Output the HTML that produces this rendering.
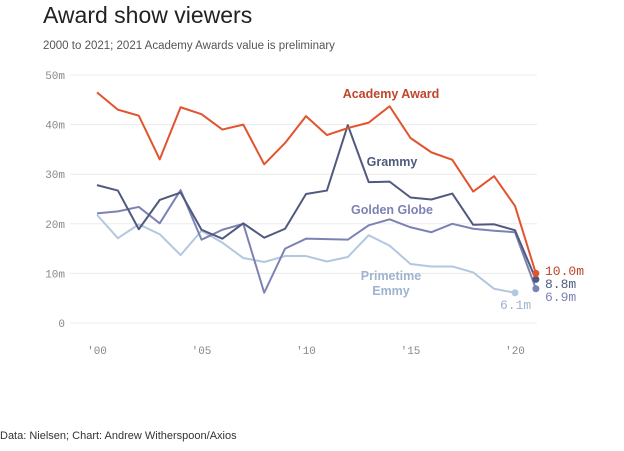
<!DOCTYPE html>
<html><head><meta charset="utf-8"><style>
body{margin:0;width:624px;height:451px;background:#fff;font-family:"Liberation Sans",sans-serif;overflow:hidden;position:relative}
#title{position:absolute;left:43px;top:2px;font-size:23px;color:#222}
#sub{position:absolute;left:43px;top:40px;font-size:11.5px;color:#555}
#foot{position:absolute;left:0;top:430px;font-size:11px;color:#333}
svg{position:absolute;left:0;top:0}
</style></head><body>
<div id="title">Award show viewers</div>
<div id="sub">2000 to 2021; 2021 Academy Awards value is preliminary</div>
<div id="foot">Data: Nielsen; Chart: Andrew Witherspoon/Axios</div>
<svg id="chart" width="624" height="451"></svg>
<script>
const years=[2000,2001,2002,2003,2004,2005,2006,2007,2008,2009,2010,2011,2012,2013,2014,2015,2016,2017,2018,2019,2020,2021];
const academy=[46.5,43,41.8,33,43.5,42.1,39,40,32,36.3,41.7,37.9,39.3,40.4,43.7,37.3,34.4,32.9,26.5,29.6,23.6,10.0];
const grammy=[27.8,26.7,18.9,24.8,26.3,18.8,17,20.1,17.2,19,26,26.7,39.9,28.4,28.5,25.3,24.9,26.1,19.8,19.9,18.7,8.8];
const globe=[22.1,22.5,23.4,20.1,26.8,16.8,18.8,20,6.1,15,17,16.9,16.8,19.7,20.9,19.3,18.3,20,19,18.6,18.3,6.9];
const emmy=[21.8,17.1,19.9,17.9,13.7,18.6,16.2,13.1,12.3,13.5,13.5,12.4,13.3,17.7,15.6,11.9,11.4,11.4,10.2,6.9,6.1];
const yTicks=[0,10,20,30,40,50];
const yTickLabels=["0","10m","20m","30m","40m","50m"];
const xTicks=[2000,2005,2010,2015,2020];
const xTickLabels=["'00","'05","'10","'15","'20"];
const NS="http://www.w3.org/2000/svg";
const svg=document.getElementById('chart');
const x=v=>97+(v-2000)*20.9;
const y=v=>323-v*4.96;
function el(t,a,p){const e=document.createElementNS(NS,t);for(const k in a)e.setAttribute(k,a[k]);(p||svg).appendChild(e);return e;}
yTicks.forEach((t,i)=>{
 const g=el('line',{x1:70,x2:537,y1:y(t),y2:y(t),stroke:'#ececec','stroke-width':1});
 
 
 const l=el('text',{x:65,y:y(t)+4,'text-anchor':'end','font-size':11,fill:'#888','font-family':'Liberation Mono, monospace'});
 l.textContent=yTickLabels[i];
 
 
});
xTicks.forEach((t,i)=>{
 const l=el('text',{x:x(t),y:354,'text-anchor':'middle','font-size':11,fill:'#888','font-family':'Liberation Mono, monospace'});
 l.textContent=xTickLabels[i];
 
 
});
const series=[
 {d:emmy,c:'#b3c7df',n:'emmy'},
 {d:globe,c:'#7d82b5',n:'golden-globe'},
 {d:grammy,c:'#4f5a7e',n:'grammy'},
 {d:academy,c:'#e2532e',n:'academy-award'}];
series.forEach(s=>{
 const pts=s.d.map((v,i)=>x(years[i])+','+y(v)).join(' ');
 const p=el('polyline',{points:pts,fill:'none',stroke:s.c,'stroke-width':2,'stroke-linejoin':'round'});
 
 
 const li=s.d.length-1;
 const c=el('circle',{cx:x(years[li]),cy:y(s.d[li]),r:3.5,fill:s.c});
 
 
});
function lbl(t,xx,yy,c,anchor,name,mono){
 const e=el('text',{x:xx,y:yy,'text-anchor':anchor,'font-size':mono?13:12.5,'font-weight':mono?'normal':'bold',fill:c,'font-family':mono?'Liberation Mono, monospace':'Liberation Sans, sans-serif'});
 e.textContent=t;
 
 
}
lbl('Academy Award',391,98,'#c0452a','middle','academy-award-label');
lbl('Grammy',392,166,'#4f5a7e','middle','grammy-label');
lbl('Golden Globe',392,214,'#7d82b5','middle','golden-globe-label');
lbl('Primetime',391,280,'#9fb3cf','middle','emmy-label-1');
lbl('Emmy',391,295,'#9fb3cf','middle','emmy-label-2');
lbl(academy[21].toFixed(1)+'m',545,275,'#c0452a','start','academy-value-label',true);
lbl(grammy[21].toFixed(1)+'m',545,288,'#4f5a7e','start','grammy-value-label',true);
lbl(globe[21].toFixed(1)+'m',545,301,'#7d82b5','start','golden-globe-value-label',true);
lbl(emmy[20].toFixed(1)+'m',500,309,'#9fb3cf','start','emmy-value-label',true);
</script>
</body></html>
